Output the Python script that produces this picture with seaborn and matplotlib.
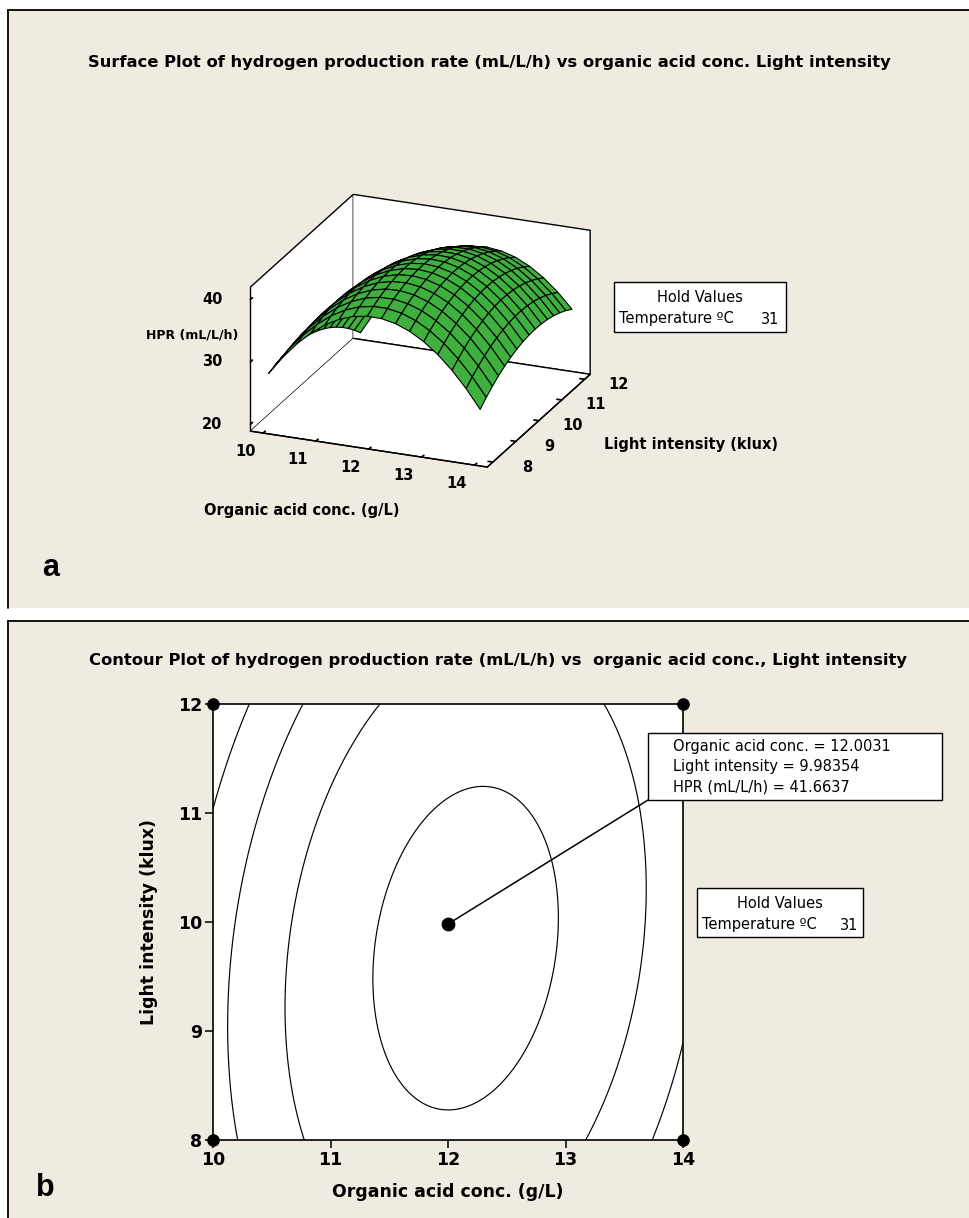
import numpy as np
import matplotlib
matplotlib.use("Agg")
import matplotlib.pyplot as plt
import seaborn as sns
from matplotlib.patches import Rectangle
from matplotlib.lines import Line2D
from mpl_toolkits.mplot3d import proj3d

# ---------------- data ----------------
org_acid_ticks = [10, 11, 12, 13, 14]
light_ticks = [8, 9, 10, 11, 12]
hpr_ticks = [20, 30, 40]
# 3-D box limits (Minitab pads the factor ranges)
org_acid_box = [9.76, 14.24]
light_box = [7.76, 12.24]
hpr_box = [18.9, 42.0]
# fitted quadratic response-surface model (temperature held at 31 C)
hpr_intercept = -407.75
hpr_linear = [66.597, 9.214]        # organic acid, light intensity
hpr_square = [-2.98, -0.843]        # organic acid^2, light intensity^2
hpr_interaction = 0.596             # organic acid * light intensity
contour_levels = [25, 30, 35, 40]
crosshair = [12.0031, 9.98354, 41.6637]
hold_temperature = 31

title_a = "Surface Plot of hydrogen production rate (mL/L/h) vs organic acid conc. Light intensity"
title_b = "Contour Plot of hydrogen production rate (mL/L/h) vs  organic acid conc., Light intensity"


def hpr(x, y):
    return (hpr_intercept + hpr_linear[0] * x + hpr_linear[1] * y
            + hpr_square[0] * x ** 2 + hpr_square[1] * y ** 2
            + hpr_interaction * x * y)


# ---------------- style ----------------
sns.set_theme(style="white")
plt.rcParams["font.family"] = ["DejaVu Sans"]
plt.rcParams["text.color"] = "black"
plt.rcParams["axes.labelcolor"] = "black"
plt.rcParams["xtick.color"] = "black"
plt.rcParams["ytick.color"] = "black"
BEIGE = "#EFEBE1"
GREEN = "#3DB03D"

W, H = 969, 1218
fig = plt.figure(figsize=(W / 100, H / 100), dpi=100)
fig.patch.set_facecolor("white")


def fx(x):
    return x / W


def fy(y):
    return 1 - y / H


def rect_px(l, t, r, b):
    return [fx(l), fy(b), (r - l) / W, (b - t) / H]


# panel backgrounds with left/top borders
for top, bottom in [(10, 608), (621, 1240)]:
    fig.patches.append(Rectangle((fx(8), fy(bottom)), 1.0, (bottom - top) / H,
                                 transform=fig.transFigure, facecolor=BEIGE,
                                 edgecolor="none", zorder=-5))
    fig.lines.append(Line2D([fx(8), fx(8)], [fy(bottom), fy(top)],
                            transform=fig.transFigure, color="black", lw=1.3, zorder=-4))
    fig.lines.append(Line2D([fx(8), 1.0], [fy(top), fy(top)],
                            transform=fig.transFigure, color="black", lw=1.3, zorder=-4))

# ---------------- panel a : surface ----------------
ax3 = fig.add_axes(rect_px(219, 140, 611, 532), projection="3d")
ax3.set_proj_type("ortho")
ax3.view_init(elev=21.7, azim=-67.7)
ax3.set_box_aspect((256, 271, 155))
ax3.set_facecolor("none")
ax3.patch.set_alpha(0)

xs = np.linspace(org_acid_ticks[0], org_acid_ticks[-1], 16)
ys = np.linspace(light_ticks[0], light_ticks[-1], 16)
X, Y = np.meshgrid(xs, ys)
Z = hpr(X, Y)
ax3.plot_surface(X, Y, Z, color=GREEN, edgecolor="black", linewidth=0.8,
                 shade=False, rstride=1, cstride=1, antialiased=True)

ax3.set_xlim(*org_acid_box)
ax3.set_ylim(*light_box)
ax3.set_zlim(*hpr_box)
ax3.grid(False)
for axis in (ax3.xaxis, ax3.yaxis, ax3.zaxis):
    axis.set_pane_color((1, 1, 1, 1))
    axis.pane.set_edgecolor("black")
    axis.pane.set_linewidth(1.0)
    axis.line.set_color("black")
    axis.line.set_linewidth(1.0)
    axis._axinfo["tick"]["inward_factor"] = 0.0
    axis._axinfo["tick"]["outward_factor"] = 0.25
ax3.zaxis.set_ticks_position("lower")
ax3.zaxis.set_label_position("lower")
ax3.set_xticks(org_acid_ticks, labels=[""] * len(org_acid_ticks))
ax3.set_yticks(light_ticks, labels=[""] * len(light_ticks))
ax3.set_zticks(hpr_ticks, labels=[""] * len(hpr_ticks))

# tick labels placed at the library's projected tick positions
fig.canvas.draw()
M = ax3.get_proj()


def to_px(x, y, z):
    px, py, _ = proj3d.proj_transform(x, y, z, M)
    dx, dy = ax3.transData.transform((px, py))
    return dx, H - dy


tick_font = dict(fontsize=10.5, fontweight="bold")
for v in org_acid_ticks:
    px, py = to_px(v, light_box[0], hpr_box[0])
    fig.text(fx(px - 18), fy(py + 18), str(v), ha="center", va="center", **tick_font)
for v in light_ticks:
    px, py = to_px(org_acid_box[1], v, hpr_box[0])
    fig.text(fx(px + 34), fy(py + 5), str(v), ha="center", va="center", **tick_font)
for v in hpr_ticks:
    px, py = to_px(org_acid_box[0], light_box[0], v)
    fig.text(fx(px - 28), fy(py), str(v), ha="right", va="center", **tick_font)

fig.text(fx(192), fy(335), "HPR (mL/L/h)", ha="center", va="center",
         fontsize=9, fontweight="bold")
fig.text(fx(302), fy(510), "Organic acid conc. (g/L)", ha="center", va="center",
         fontsize=10.5, fontweight="bold")
fig.text(fx(604), fy(444), "Light intensity (klux)", ha="left", va="center",
         fontsize=10.5, fontweight="bold")

fig.text(fx(489), fy(62), title_a, ha="center", va="center", fontsize=11.8, fontweight="bold")

# hold values box a
fig.patches.append(Rectangle((fx(614), fy(332)), (786 - 614) / W, 50 / H,
                             transform=fig.transFigure, facecolor="white",
                             edgecolor="black", lw=1.0))
fig.text(fx(700), fy(297), "Hold Values", ha="center", va="center", fontsize=10.5)
fig.text(fx(619), fy(319), "Temperature \u00baC", ha="left", va="center", fontsize=10.5)
fig.text(fx(779), fy(319), str(hold_temperature), ha="right", va="center", fontsize=10.5)

fig.text(fx(51), fy(568), "a", ha="center", va="center", fontsize=22,
         fontweight="bold", family="Liberation Sans")

# ---------------- panel b : contour ----------------
ax2 = fig.add_axes(rect_px(213, 704, 683, 1140))
ax2.set_facecolor("white")
xc = np.linspace(org_acid_ticks[0], org_acid_ticks[-1], 301)
yc = np.linspace(light_ticks[0], light_ticks[-1], 301)
XC, YC = np.meshgrid(xc, yc)
ax2.contour(XC, YC, hpr(XC, YC), levels=contour_levels, colors="black", linewidths=0.85)
ax2.set_xlim(org_acid_ticks[0], org_acid_ticks[-1])
ax2.set_ylim(light_ticks[0], light_ticks[-1])
ax2.set_xticks(org_acid_ticks, labels=[str(v) for v in org_acid_ticks],
               fontsize=12.5, fontweight="bold")
ax2.set_yticks(light_ticks, labels=[str(v) for v in light_ticks],
               fontsize=12.5, fontweight="bold")
ax2.tick_params(direction="out", length=6, width=1.1, color="black",
                bottom=True, left=True, pad=2, labelcolor="black")
for sp in ax2.spines.values():
    sp.set_color("black")
    sp.set_linewidth(1.2)
ax2.set_xlabel("Organic acid conc. (g/L)", fontsize=12.5, fontweight="bold",
               labelpad=10, color="black")
ax2.set_ylabel("Light intensity (klux)", fontsize=12.5, fontweight="bold",
               labelpad=14, color="black")

corner_x = [org_acid_ticks[0], org_acid_ticks[0], org_acid_ticks[-1], org_acid_ticks[-1]]
corner_y = [light_ticks[0], light_ticks[-1], light_ticks[0], light_ticks[-1]]
sns.scatterplot(x=corner_x, y=corner_y, ax=ax2, color="black", s=70,
                edgecolor="black", clip_on=False, zorder=6, legend=False)
sns.scatterplot(x=[crosshair[0]], y=[crosshair[1]], ax=ax2, color="black", s=85,
                edgecolor="black", zorder=6, legend=False)
ax2.annotate("", xy=(crosshair[0], crosshair[1]), xycoords="data",
             xytext=(fx(648), fy(800)), textcoords="figure fraction",
             arrowprops=dict(arrowstyle="-", color="black", lw=1.1,
                             shrinkA=0, shrinkB=0),
             annotation_clip=False)

fig.patches.append(Rectangle((fx(648), fy(800)), (942 - 648) / W, 67 / H,
                             transform=fig.transFigure, facecolor="white",
                             edgecolor="black", lw=1.0, zorder=3))
info = [f"Organic acid conc. = {crosshair[0]}",
        f"Light intensity = {crosshair[1]}",
        f"HPR (mL/L/h) = {crosshair[2]}"]
for i, line in enumerate(info):
    fig.text(fx(673), fy(747 + 20 * i), line, ha="left", va="center",
             fontsize=10.5, zorder=4)

fig.text(fx(498), fy(661), title_b, ha="center", va="center",
         fontsize=11.8, fontweight="bold")

fig.patches.append(Rectangle((fx(697), fy(937)), (863 - 697) / W, 49 / H,
                             transform=fig.transFigure, facecolor="white",
                             edgecolor="black", lw=1.0))
fig.text(fx(780), fy(903), "Hold Values", ha="center", va="center", fontsize=10.5)
fig.text(fx(702), fy(925), "Temperature \u00baC", ha="left", va="center", fontsize=10.5)
fig.text(fx(858), fy(925), str(hold_temperature), ha="right", va="center", fontsize=10.5)

fig.text(fx(45), fy(1188), "b", ha="center", va="center", fontsize=22,
         fontweight="bold", family="Liberation Sans")

fig.savefig("out.png", dpi=100, facecolor="white")
